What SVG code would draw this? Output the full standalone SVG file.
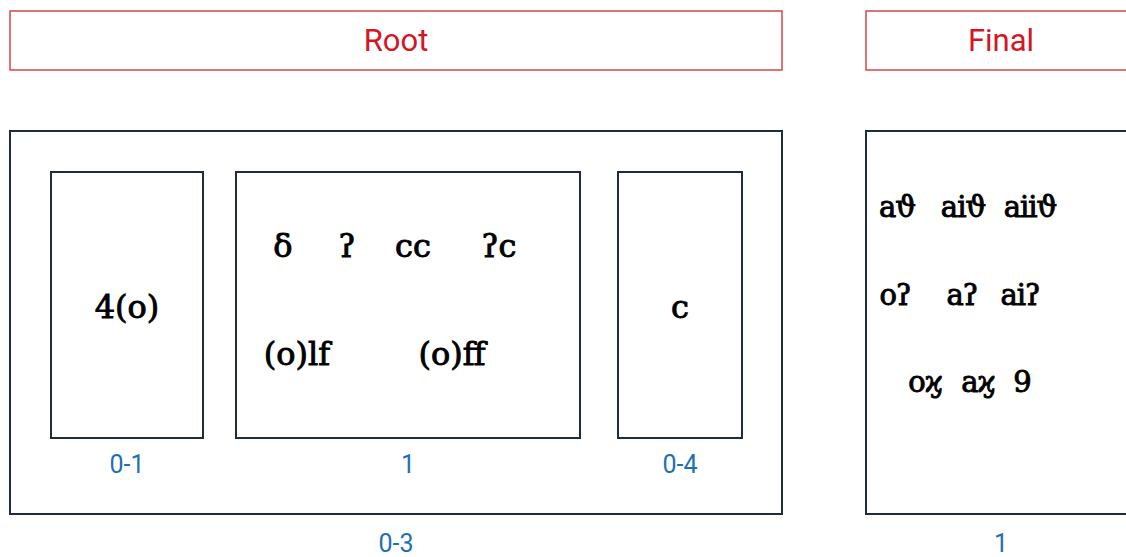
<svg xmlns="http://www.w3.org/2000/svg" width="1126" height="557" viewBox="0 0 1126 557">
<style>
.hdr{fill:#fff;stroke:#d9444e;stroke-width:1.5}
.htxt{font-family:Roboto,"Liberation Sans",sans-serif;font-size:31px;fill:#d41624;text-anchor:middle}
.box{fill:#fff;stroke:#1f2d3a;stroke-width:2}
.lbl{font-family:Roboto,"Liberation Sans",sans-serif;font-size:25px;fill:#1f6fb5;text-anchor:middle}
.v{font-family:"DejaVu Serif","Liberation Serif",serif;font-size:32px;fill:#000;stroke:#000;stroke-width:0.9;text-anchor:middle}
.s{font-size:29px;letter-spacing:-1px}
</style>
<rect width="1126" height="557" fill="#fff"/>
<g id="root-header"><rect class="hdr" x="10" y="11" width="772" height="59"/><text class="htxt" x="396" y="51">Root</text></g>
<g id="final-header"><rect class="hdr" x="866" y="11" width="270" height="59"/><text class="htxt" x="1001" y="51">Final</text></g>
<g id="node-0-3"><rect class="box" x="10" y="131" width="772" height="383"/><text class="lbl" x="396" y="552">0-3</text></g>
<g id="node-0-1"><rect class="box" x="51" y="172" width="152" height="266"/><text class="v" x="127" y="318">4(o)</text><text class="lbl" x="127" y="473">0-1</text></g>
<g id="node-1"><rect class="box" x="236" y="172" width="344" height="266"/>
<text class="v" x="283" y="257">δ</text><text class="v" x="347" y="257">ʔ</text><text class="v" x="413" y="257">cc</text><text class="v" x="499" y="257">ʔc</text>
<text class="v" x="297" y="365">(o)lf</text><text class="v" x="452" y="365">(o)ff</text>
<text class="lbl" x="408" y="473">1</text></g>
<g id="node-0-4"><rect class="box" x="618" y="172" width="124" height="266"/><text class="v" x="680" y="318">c</text><text class="lbl" x="680" y="473">0-4</text></g>
<g id="node-final"><rect class="box" x="866" y="131" width="270" height="383"/>
<text class="v s" x="897" y="217">aϑ</text><text class="v s" x="963" y="217">aiϑ</text><text class="v s" x="1030" y="217">aiiϑ</text>
<text class="v s" x="895" y="305">oʔ</text><text class="v s" x="962" y="305">aʔ</text><text class="v s" x="1020" y="305">aiʔ</text>
<text class="v s" x="925" y="392">oϗ</text><text class="v s" x="978" y="392">aϗ</text><text class="v s" x="1022" y="392">9</text>
<text class="lbl" x="1001" y="552">1</text></g>
<g id="connectors"/>
</svg>
